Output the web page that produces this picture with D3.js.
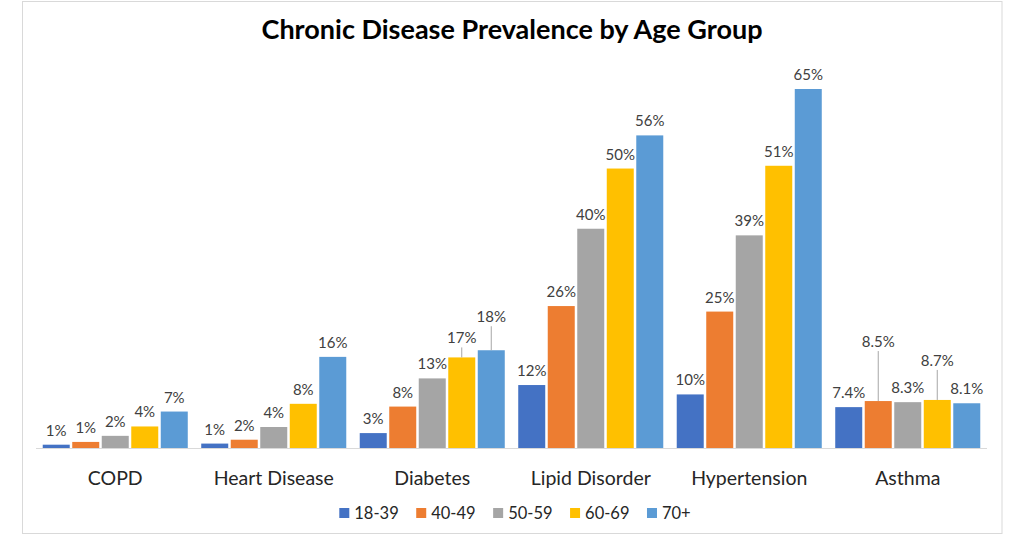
<!DOCTYPE html>
<html>
<head>
<meta charset="utf-8">
<script src="https://cdn.jsdelivr.net/npm/d3@7"></script>
<style>
  html, body { margin: 0; padding: 0; background: #fff; }
  svg { display: block; font-family: Lato, "Open Sans", sans-serif; }
</style>
</head>
<body>
<svg id="chart" width="1024" height="536"></svg>
<script>
// ---- DATA ----
const categories = ["COPD", "Heart Disease", "Diabetes", "Lipid Disorder", "Hypertension", "Asthma"];
const ageGroups = ["18-39", "40-49", "50-59", "60-69", "70+"];

// prevalence (%) per age group, in category order
const values_18_39 = [0.6, 0.8, 2.7, 11.4, 9.7, 7.4];
const values_40_49 = [1.1, 1.5, 7.5, 25.7, 24.7, 8.5];
const values_50_59 = [2.2, 3.8, 12.6, 39.7, 38.5, 8.3];
const values_60_69 = [3.9, 8.0, 16.4, 50.6, 51.1, 8.7];
const values_70p   = [6.6, 16.5, 17.7, 56.6, 65.0, 8.1];

// data labels as printed on the chart
const labels_18_39 = ["1%", "1%", "3%", "12%", "10%", "7.4%"];
const labels_40_49 = ["1%", "2%", "8%", "26%", "25%", "8.5%"];
const labels_50_59 = ["2%", "4%", "13%", "40%", "39%", "8.3%"];
const labels_60_69 = ["4%", "8%", "17%", "50%", "51%", "8.7%"];
const labels_70p   = ["7%", "16%", "18%", "56%", "65%", "8.1%"];

const title = "Chronic Disease Prevalence by Age Group";

// ---- STYLE / LAYOUT ----
const colors = ["#4472C4", "#ED7D31", "#A5A5A5", "#FFC000", "#5B9BD5"];
const seriesValues = [values_18_39, values_40_49, values_50_59, values_60_69, values_70p];
const seriesLabels = [labels_18_39, labels_40_49, labels_50_59, labels_60_69, labels_70p];
// extra lift of some data labels (with leader lines), keyed "category|group"
const labelLift = {"Diabetes|60-69": 5, "Diabetes|70+": 19, "Asthma|40-49": 45, "Asthma|60-69": 25};

const svg = d3.select("#chart");
const baseY = 448;

// outer border
svg.append("rect").attr("x", 22.5).attr("y", 1.5).attr("width", 979.5).attr("height", 532)
  .attr("fill", "#fff").attr("stroke", "#D9D9D9").attr("stroke-width", 1);

// title
svg.append("text").attr("x", 512).attr("y", 39).attr("text-anchor", "middle")
  .attr("font-size", 27).attr("font-weight", "bold").attr("fill", "#000").text(title);

const x0 = d3.scaleBand().domain(categories).range([36, 987]).paddingInner(0.085).paddingOuter(0.0425);
const x1 = d3.scaleBand().domain(ageGroups).range([0, x0.bandwidth()]).paddingInner(0.085);
const y = d3.scaleLinear().domain([0, 70]).range([baseY, baseY - 70 * 5.523]);

const rows = [];
categories.forEach((c, ci) => {
  ageGroups.forEach((g, gi) => {
    rows.push({cat: c, group: g, gi, value: seriesValues[gi][ci], label: seriesLabels[gi][ci]});
  });
});

svg.append("g").selectAll("rect").data(rows).join("rect")
  .attr("x", d => x0(d.cat) + x1(d.group))
  .attr("y", d => y(d.value))
  .attr("width", x1.bandwidth())
  .attr("height", d => baseY - y(d.value))
  .attr("fill", d => colors[d.gi]);

// baseline
svg.append("line").attr("x1", 36).attr("x2", 987).attr("y1", baseY + 0.5).attr("y2", baseY + 0.5)
  .attr("stroke", "#D9D9D9").attr("stroke-width", 1);

// data labels + leader lines
const gLab = svg.append("g");
rows.forEach(d => {
  const lift = labelLift[d.cat + "|" + d.group] || 0;
  const cx = x0(d.cat) + x1(d.group) + x1.bandwidth() / 2;
  const top = y(d.value);
  const ty = top - 9 - lift;
  if (lift > 0) {
    gLab.append("line").attr("x1", cx).attr("x2", cx).attr("y1", ty + 4).attr("y2", top)
      .attr("stroke", "#A6A6A6").attr("stroke-width", 1);
  }
  gLab.append("text").attr("x", cx).attr("y", ty).attr("text-anchor", "middle")
    .attr("font-size", 15).attr("fill", "#404040").text(d.label);
});

// category axis labels
svg.append("g").selectAll("text").data(categories).join("text")
  .attr("x", d => x0(d) + x0.bandwidth() / 2)
  .attr("y", 484.5)
  .attr("text-anchor", "middle")
  .attr("font-size", 19.5)
  .attr("fill", "#262626")
  .text(d => d);

// legend
const leg = svg.append("g");
let lx = 0;
ageGroups.forEach((g, i) => {
  const it = leg.append("g").attr("transform", `translate(${lx},0)`);
  it.append("rect").attr("x", 0).attr("y", 508).attr("width", 10).attr("height", 10).attr("fill", colors[i]);
  const t = it.append("text").attr("x", 15).attr("y", 519).attr("font-size", 16.5).attr("fill", "#262626").text(g);
  const w = t.node().getComputedTextLength();
  lx += 15 + w + 17.5;
});
const totalW = lx - 17.5;
leg.attr("transform", `translate(${515 - totalW / 2},0)`);
</script>
</body>
</html>
